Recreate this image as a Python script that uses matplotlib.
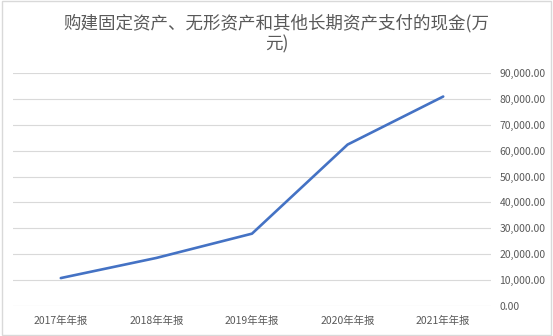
import matplotlib.pyplot as plt
from matplotlib.patches import Rectangle
from matplotlib.ticker import FuncFormatter

plt.rcParams['font.family'] = ['Noto Sans CJK SC', 'DejaVu Sans']

categories = ['2017年年报', '2018年年报', '2019年年报', '2020年年报', '2021年年报']
values = [10700, 18500, 27900, 62400, 81000]
title = '购建固定资产、无形资产和其他长期资产支付的现金(万\n元)'

fig = plt.figure(figsize=(5.53, 3.36), dpi=100)
ax = fig.add_axes([13 / 553, 30.3 / 336, 478 / 553, 232.4 / 336])

x = range(len(categories))
ax.plot(x, values, color='#4472C4', linewidth=1.9, solid_capstyle='round')

ax.set_xlim(-0.5, len(categories) - 0.5)
ax.set_ylim(0, 90000)
ax.set_yticks(range(0, 90001, 10000))
ax.yaxis.set_major_formatter(FuncFormatter(lambda v, p: f'{v:,.2f}'))
ax.yaxis.tick_right()
ax.set_xticks(list(x))
ax.set_xticklabels(categories)
ax.tick_params(axis='both', length=0, labelsize=7.5, colors='#595959')
ax.tick_params(axis='y', pad=6)
ax.tick_params(axis='x', pad=7)
ax.grid(axis='y', color='#d9d9d9', linewidth=0.8)
ax.set_axisbelow(True)
for s in ax.spines.values():
    s.set_visible(False)

fig.text(0.5, (336 - 33.7) / 336, title, ha='center', va='center',
         fontsize=12.6, color='#595959', linespacing=1.25)

fig.patches.append(Rectangle((0.003, 0.003), 0.994, 0.994, transform=fig.transFigure,
                             fill=False, edgecolor='#d9d9d9', linewidth=1))

fig.savefig('out.png', dpi=100)
